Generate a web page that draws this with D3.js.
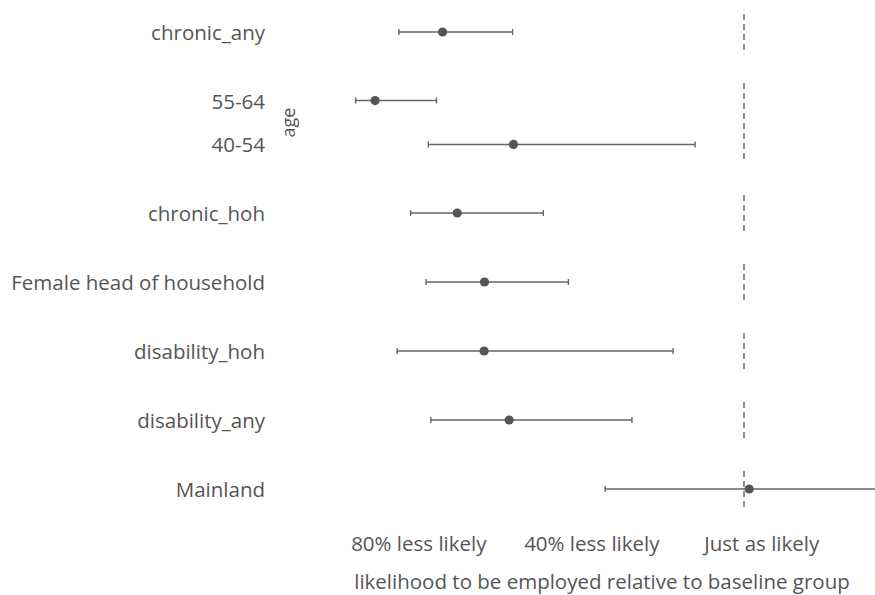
<!DOCTYPE html>
<html>
<head>
<meta charset="utf-8">
<script src="https://cdn.jsdelivr.net/npm/d3@7"></script>
<style>
  html, body { margin: 0; padding: 0; background: #fff; }
  svg { display: block; font-family: "Open Sans", "Noto Sans", sans-serif; }
</style>
</head>
<body>
<svg id="chart" width="875" height="595"></svg>
<script>
// Odds-ratio style estimates with confidence intervals, grouped into facet panels
const terms    = ["chronic_any", "55-64", "40-54", "chronic_hoh", "Female head of household", "disability_hoh", "disability_any", "Mainland"];
const groups   = ["chronic_any", "age", "age", "chronic_hoh", "Female head of household", "disability_hoh", "disability_any", "Mainland"];
const estimate = [0.303, 0.147, 0.467, 0.337, 0.400, 0.399, 0.457, 1.012];
const lower    = [0.202, 0.102, 0.270, 0.229, 0.265, 0.198, 0.276, 0.679];
const upper    = [0.465, 0.289, 0.887, 0.536, 0.594, 0.836, 0.741, 1.400];

const tickValues = [0.2, 0.6, 1.0];
const tickLabels = ["80% less likely", "40% less likely", "Just as likely"];
const refValue = 1;
const xTitle = "likelihood to be employed relative to baseline group";
const stripLabels = { age: "age" };

const ink = "#555";
const fontSize = 20.5;
const svg = d3.select("#chart");
const W = 875;
const panelLeft = 329, panelRight = W;

// x scale: value 1 sits on the dashed reference line
const x = d3.scaleLinear().domain([0.2, 1.0]).range([398, 744]);

// panel layout: one panel per group, height grows with the number of rows
const rows = terms.map((t, i) => ({ term: t, group: groups[i], est: estimate[i], lo: lower[i], hi: upper[i] }));
const panelNames = Array.from(new Set(groups));
const singleH = 36, extraRowH = 43, gap = 33;
let cursor = 14;
const panels = panelNames.map(g => {
  const members = rows.filter(r => r.group === g);
  const h = singleH + (members.length - 1) * extraRowH;
  const p = { name: g, top: cursor, h, members };
  p.y = d3.scalePoint().domain(members.map(m => m.term)).range([cursor, cursor + h]).padding(0.4);
  cursor += h + gap;
  return p;
});

const plot = svg.append("g");

panels.forEach(p => {
  const g = plot.append("g");

  // dashed "no difference" line, drawn within each panel
  g.append("line")
    .attr("x1", x(refValue)).attr("x2", x(refValue))
    .attr("y1", p.top).attr("y2", p.top + p.h)
    .attr("stroke", ink).attr("stroke-width", 1.3)
    .attr("stroke-dasharray", "6,4");

  p.members.forEach(r => {
    const cy = p.y(r.term);
    // confidence interval
    g.append("line")
      .attr("x1", x(r.lo)).attr("x2", x(r.hi))
      .attr("y1", cy).attr("y2", cy)
      .attr("stroke", "#666").attr("stroke-width", 1.4);
    [r.lo, r.hi].forEach(v => {
      g.append("line")
        .attr("x1", x(v)).attr("x2", x(v))
        .attr("y1", cy - 3).attr("y2", cy + 3)
        .attr("stroke", "#666").attr("stroke-width", 1.4);
    });
    // point estimate
    g.append("circle")
      .attr("cx", x(r.est)).attr("cy", cy).attr("r", 4.6)
      .attr("fill", ink);

    // row label
    svg.append("text")
      .attr("x", 265).attr("y", cy)
      .attr("text-anchor", "end").attr("dominant-baseline", "central")
      .attr("fill", ink).attr("font-size", fontSize)
      .text(r.term);
  });

  // strip label for multi-row groups
  if (stripLabels[p.name]) {
    const cx = 288, cy = p.top + p.h / 2;
    svg.append("text")
      .attr("transform", `translate(${cx},${cy}) rotate(-90)`)
      .attr("text-anchor", "middle").attr("dominant-baseline", "central")
      .attr("fill", ink).attr("font-size", 18)
      .text(stripLabels[p.name]);
  }
});

// bottom axis: labels only, each placed with about a third of its width left of the tick
const axis = d3.axisBottom(x)
  .tickValues(tickValues)
  .tickFormat((d, i) => tickLabels[i])
  .tickSize(0).tickPadding(0);
const axisG = svg.append("g").attr("transform", "translate(0,536)").call(axis);
axisG.select(".domain").remove();
axisG.selectAll("text")
  .attr("fill", ink)
  .attr("font-size", fontSize)
  .attr("font-family", "'Open Sans', 'Noto Sans', sans-serif")
  .attr("text-anchor", "start")
  .attr("dx", function () { return -0.35 * this.getComputedTextLength(); });

// axis title, centred under the panels
svg.append("text")
  .attr("x", (panelLeft + panelRight) / 2).attr("y", 581)
  .attr("text-anchor", "middle").attr("dominant-baseline", "central")
  .attr("fill", ink).attr("font-size", fontSize)
  .text(xTitle);
</script>
</body>
</html>
